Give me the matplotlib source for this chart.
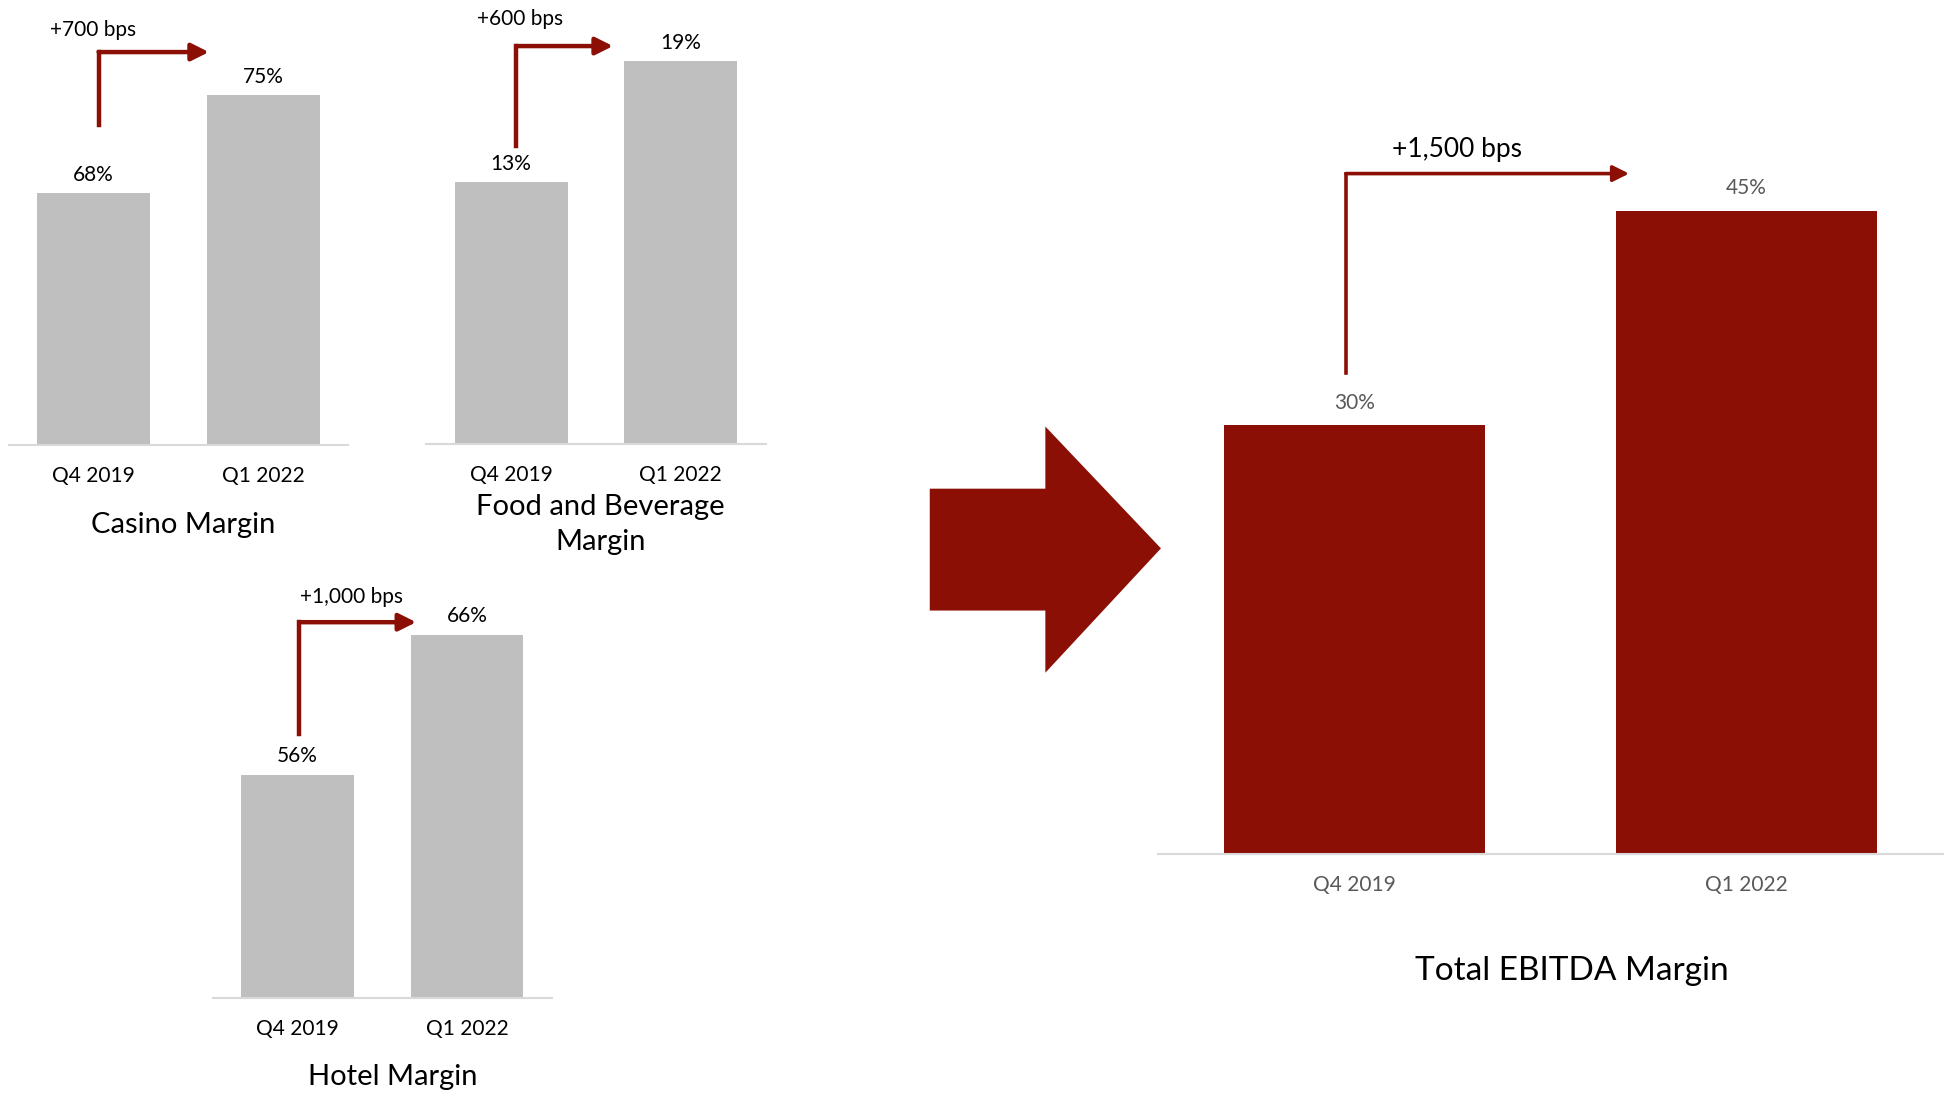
import matplotlib.pyplot as plt
from matplotlib.patches import Polygon

# data
periods = ["Q4 2019", "Q1 2022"]
casino_margin = [68, 75]
fnb_margin = [13, 19]
hotel_margin = [56, 66]
ebitda_margin = [30, 45]
bps_labels = ["+700 bps", "+600 bps", "+1,000 bps", "+1,500 bps"]

GREY = "#BFBFBF"
RED = "#8B0F04"
AXIS = "#D9D9D9"

plt.rcParams["font.family"] = ["Lato", "DejaVu Sans"]

W, H = 1568, 879  # layout measured on the reduced reference
fig = plt.figure(figsize=(19.49, 10.93), dpi=100)


def frac(x, y):
    return x / W, 1 - y / H


def add_panel(left, right, base, top, ylim, vals, color, title, title_pos,
              bps, bps_xy, arrow, fs=15, title_fs=21, txt="black", lw=3.2,
              head=26, bps_fs=15, val_off=6):
    x0, y0 = frac(left, base)
    x1, y1 = frac(right, top)
    ax = fig.add_axes([x0, y0, x1 - x0, y1 - y0])
    ax.bar([0, 1], vals, width=0.665, color=color, bottom=0)
    ax.set_xlim(-0.5, 1.5)
    ax.set_ylim(*ylim)
    for s in ["top", "right", "left"]:
        ax.spines[s].set_visible(False)
    ax.spines["bottom"].set_color(AXIS)
    ax.spines["bottom"].set_linewidth(1.5)
    ax.set_yticks([])
    ax.set_xticks([0, 1])
    ax.set_xticklabels(periods, fontsize=fs, color=txt)
    ax.tick_params(axis="x", length=0, pad=15)
    for i, v in enumerate(vals):
        ax.annotate(f"{v}%", (i, v), xytext=(0, val_off),
                    textcoords="offset points", ha="center", va="bottom",
                    fontsize=fs, color=txt)
    ax.text(title_pos[0], -title_pos[1], title, transform=ax.transAxes,
            ha="center", va="top", fontsize=title_fs, color="black",
            linespacing=1.45)

    # elbow arrow showing the change
    ax_x, start_off, top_off, end_x = arrow
    y_start = vals[0] + start_off
    y_top = vals[1] + top_off
    ax.plot([ax_x, ax_x], [y_start, y_top], color=RED, lw=lw,
            solid_capstyle="projecting", clip_on=False)
    ax.annotate("", xy=(end_x, y_top), xytext=(ax_x, y_top),
                arrowprops=dict(arrowstyle="-|>", color=RED, lw=lw,
                                mutation_scale=head, shrinkA=0, shrinkB=0),
                annotation_clip=False)
    ax.text(bps_xy[0], bps_xy[1], bps, ha="center", va="center",
            fontsize=bps_fs, color="black", clip_on=False)
    return ax


add_panel(7, 280, 358, 0, (50, 50 + 358 / 11.25), casino_margin, GREY,
          "Casino Margin", (0.513, 0.15), bps_labels[0], (0.0, 79.7),
          (0.03, 4.9, 3.1, 0.68))
add_panel(343, 616, 357, 0, (0, 357 / 16.2), fnb_margin, GREY,
          "Food and Beverage\nMargin", (0.513, 0.112), bps_labels[1],
          (0.05, 21.1), (0.03, 1.8, 0.75, 0.6))
add_panel(171, 444, 803, 460, (40, 40 + 343 / 11.25), hotel_margin, GREY,
          "Hotel Margin", (0.53, 0.153), bps_labels[2], (0.32, 68.7),
          (0.01, 2.9, 0.9, 0.70))
add_panel(932, 1563, 687, 100, (0, 587 / 11.5), ebitda_margin, RED,
          "Total EBITDA Margin", (0.527, 0.14), bps_labels[3], (0.26, 49.3),
          (-0.022, 3.65, 2.6, 0.70), fs=15, title_fs=24, txt="#595959",
          lw=2.6, head=24, bps_fs=19, val_off=9)

# big block arrow between the groups
pts = [(748, 393), (841, 393), (841, 343), (934, 441), (841, 541),
       (841, 491), (748, 491)]
fig.patches.append(Polygon([frac(x, y) for x, y in pts], closed=True,
                           transform=fig.transFigure, facecolor=RED,
                           edgecolor="none"))

fig.savefig("out.png", dpi=100, facecolor="white")
